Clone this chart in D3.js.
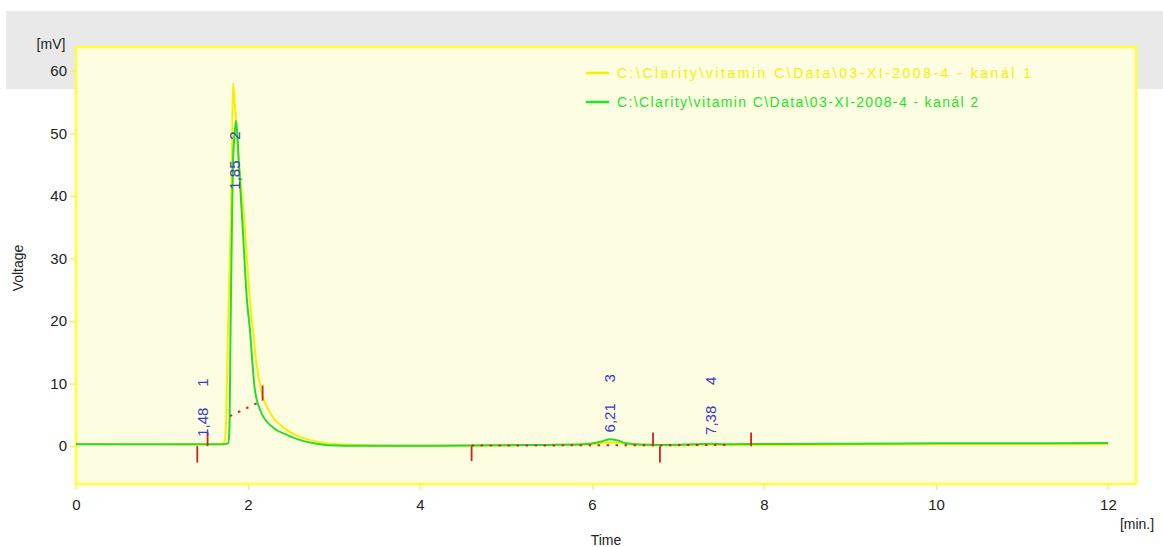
<!DOCTYPE html>
<html>
<head>
<meta charset="utf-8">
<script src="https://cdn.jsdelivr.net/npm/d3@7"></script>
<style>
  html, body { margin: 0; padding: 0; background: #ffffff; }
  svg { display: block; font-family: "Liberation Sans", Arial, sans-serif; }
</style>
</head>
<body>
<svg id="chart" width="1163" height="547"></svg>
<script>
// Chromatogram: two detector channels, retention time [min] vs. voltage [mV]
const seriesNames = [
  "C:\\Clarity\\vitamin C\\Data\\03-XI-2008-4 - kanál 1",
  "C:\\Clarity\\vitamin C\\Data\\03-XI-2008-4 - kanál 2"
];

// channel 1 (yellow)
const ch1Time = [0, 0.5, 1.0, 1.4, 1.6, 1.70, 1.73, 1.745, 1.767, 1.80, 1.814, 1.826, 1.845, 1.884, 1.965, 2.023, 2.058, 2.10, 2.16, 2.25, 2.41, 2.55, 2.72, 2.9, 3.1, 3.5, 4.0, 4.6, 5.0, 5.5, 6.0, 6.2, 6.3, 6.45, 6.6, 7.0, 7.4, 7.6, 8, 9, 10, 11, 12];
const ch1Volt = [0.35, 0.3, 0.3, 0.25, 0.3, 0.35, 1.0, 4, 18.5, 36, 47, 58, 55, 47, 34.5, 23.3, 18.5, 13, 8.5, 5.5, 3, 1.8, 1.0, 0.5, 0.25, 0.1, 0.05, 0.1, 0.15, 0.2, 0.3, 0.6, 0.55, 0.25, 0.15, 0.15, 0.25, 0.2, 0.2, 0.25, 0.3, 0.3, 0.35];

// channel 2 (green)
const ch2Time = [0, 0.5, 1.0, 1.5, 1.72, 1.77, 1.785, 1.79, 1.80, 1.814, 1.825, 1.845, 1.86, 1.875, 1.895, 1.94, 1.988, 2.023, 2.05, 2.08, 2.15, 2.29, 2.45, 2.60, 2.8, 2.95, 3.3, 4.0, 4.6, 5.0, 5.5, 5.9, 6.1, 6.21, 6.3, 6.4, 6.55, 6.8, 7.2, 7.38, 7.55, 8, 9, 10, 11, 12];
const ch2Volt = [0.3, 0.3, 0.3, 0.3, 0.3, 0.5, 3, 9, 22, 36, 45, 50, 52, 50, 45, 34.5, 23.3, 18.5, 13.5, 9, 5.5, 3, 1.8, 1.0, 0.4, 0.15, 0.05, 0.05, 0.1, 0.15, 0.2, 0.3, 0.7, 1.1, 0.9, 0.45, 0.25, 0.2, 0.3, 0.4, 0.3, 0.35, 0.4, 0.45, 0.45, 0.5];

// peak table
const peakNumbers = ["1", "2", "3", "4"];
const peakTimes = [1.48, 1.85, 6.21, 7.38];
const peakTimeLabels = ["1,48", "1,85", "6,21", "7,38"];
const peakLabelVolt = [1.5, 41, 2.2, 1.8];

// integration markers: time, from / to voltage
const markerTime = [1.41, 1.53, 2.17, 4.60, 6.71, 6.79, 7.85];
const markerFrom = [0, 2.2, 9.7, 0, 2.2, 0, 2.2];
const markerTo = [-2.6, 0, 7.3, -2.4, 0, -2.6, 0];

// integration baselines (dotted): start time, start volt, end time, end volt
const baseStartT = [1.79, 4.60, 6.79];
const baseStartV = [4.8, 0.1, 0.15];
const baseEndT = [2.17, 6.71, 7.6];
const baseEndV = [7.3, 0.15, 0.2];

// axis ticks
const xTicks = [0, 2, 4, 6, 8, 10, 12];
const yTicks = [0, 10, 20, 30, 40, 50, 60];

const svg = d3.select("#chart");

const plot = { left: 76, right: 1136, top: 47, bottom: 484 };

const x = d3.scaleLinear().domain([0, 12.326]).range([plot.left, plot.right]);
const y = d3.scaleLinear().domain([-6.05, 63.8]).range([plot.bottom, plot.top]);

// grey header band
svg.append("rect")
  .attr("x", 6).attr("y", 11).attr("width", 1157).attr("height", 78)
  .attr("fill", "#e9e9e9");

// plot area
svg.append("rect")
  .attr("x", plot.left).attr("y", plot.top)
  .attr("width", plot.right - plot.left).attr("height", plot.bottom - plot.top)
  .attr("fill", "#fdfde2");

// axes
const yAxis = d3.axisLeft(y).tickValues(yTicks).tickSize(6).tickPadding(3);
const gy = svg.append("g").attr("transform", `translate(${plot.left},0)`).call(yAxis);
const xAxis = d3.axisBottom(x).tickValues(xTicks).tickSize(6).tickPadding(9);
const gx = svg.append("g").attr("transform", `translate(0,${plot.bottom})`).call(xAxis);
[gx, gy].forEach(g => {
  g.select(".domain").remove();
  g.selectAll(".tick line").attr("stroke", "#f3f35a").attr("stroke-width", 1.5);
  g.selectAll(".tick text")
    .attr("fill", "#222")
    .style("font-size", "15px")
    .style("font-family", "'Liberation Sans', Arial, sans-serif");
});

// frame
svg.append("rect")
  .attr("x", plot.left).attr("y", plot.top)
  .attr("width", plot.right - plot.left).attr("height", plot.bottom - plot.top)
  .attr("fill", "none").attr("stroke", "#ffff3c").attr("stroke-width", 2.5);

// axis titles
svg.append("text").attr("x", 51).attr("y", 49).attr("text-anchor", "middle")
  .attr("fill", "#222").style("font-size", "14px").text("[mV]");
svg.append("text").attr("transform", "translate(23,268) rotate(-90)")
  .attr("text-anchor", "middle").attr("fill", "#222").style("font-size", "14px").text("Voltage");
svg.append("text").attr("x", 606).attr("y", 545).attr("text-anchor", "middle")
  .attr("fill", "#222").style("font-size", "14px").text("Time");
svg.append("text").attr("x", 1137).attr("y", 529).attr("text-anchor", "middle")
  .attr("fill", "#222").style("font-size", "14px").text("[min.]");

svg.append("clipPath").attr("id", "plotclip").append("rect")
  .attr("x", plot.left).attr("y", plot.top)
  .attr("width", plot.right - plot.left).attr("height", plot.bottom - plot.top);

const body = svg.append("g").attr("clip-path", "url(#plotclip)");

const line = d3.line().x(d => x(d[0])).y(d => y(d[1])).curve(d3.curveMonotoneX);

const ch1 = ch1Time.map((t, i) => [t, ch1Volt[i]]);
const ch2 = ch2Time.map((t, i) => [t, ch2Volt[i]]);

body.append("path").datum(ch1).attr("d", line)
  .attr("fill", "none").attr("stroke", "#f2f200").attr("stroke-width", 2);
body.append("path").datum(ch2).attr("d", line)
  .attr("fill", "none").attr("stroke", "#2bd92b").attr("stroke-width", 2);

// integration baselines
body.selectAll(".base").data(baseStartT).enter().append("line")
  .attr("x1", (d, i) => x(d)).attr("y1", (d, i) => y(baseStartV[i]))
  .attr("x2", (d, i) => x(baseEndT[i])).attr("y2", (d, i) => y(baseEndV[i]))
  .attr("stroke", "#e02020").attr("stroke-width", 2).attr("stroke-dasharray", "2.5,6.5");

// integration markers
body.selectAll(".mark").data(markerTime).enter().append("line")
  .attr("x1", d => x(d)).attr("x2", d => x(d))
  .attr("y1", (d, i) => y(markerFrom[i])).attr("y2", (d, i) => y(markerTo[i]))
  .attr("stroke", "#d81e1e").attr("stroke-width", 1.8);

// peak labels
peakTimes.forEach((t, i) => {
  const px = x(t), py = y(peakLabelVolt[i]);
  body.append("text")
    .attr("transform", `translate(${px + 5},${py}) rotate(-90)`)
    .attr("text-anchor", "start").attr("fill", "#3a3ad0")
    .style("font-size", "15px").text(peakTimeLabels[i]);
  body.append("text")
    .attr("transform", `translate(${px + 5},${py - 50}) rotate(-90)`)
    .attr("text-anchor", "start").attr("fill", "#3a3ad0")
    .style("font-size", "15px").text(peakNumbers[i]);
});

// legend
const legendColors = ["#f2f200", "#22e622"];
const legendY = [73, 102];
const legendLen = [414, 361];
seriesNames.forEach((name, i) => {
  svg.append("line").attr("x1", 586).attr("x2", 609)
    .attr("y1", legendY[i]).attr("y2", legendY[i])
    .attr("stroke", legendColors[i]).attr("stroke-width", 2.5);
  svg.append("text").attr("x", 617).attr("y", legendY[i] + 5)
    .attr("fill", legendColors[i]).style("font-size", "14px")
    .attr("textLength", legendLen[i]).attr("lengthAdjust", "spacing")
    .text(name);
});
</script>
</body>
</html>
